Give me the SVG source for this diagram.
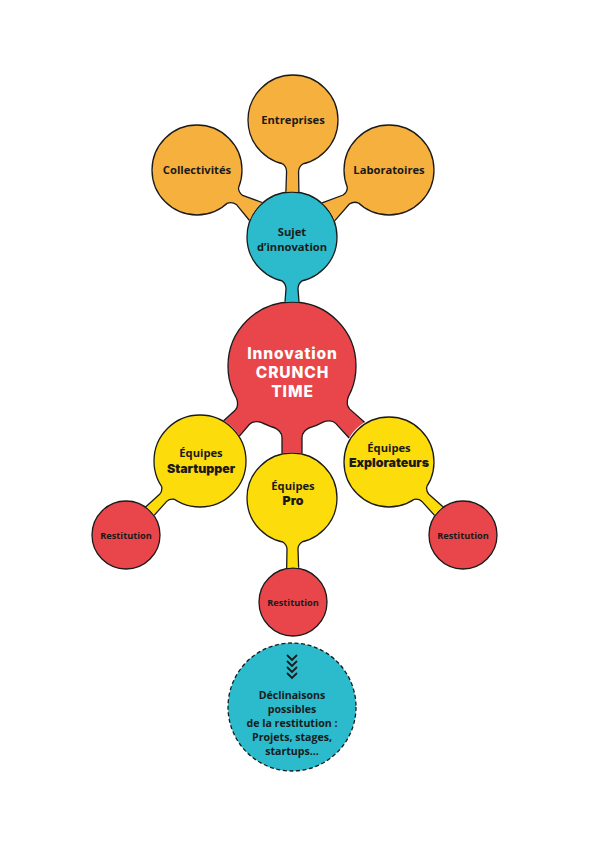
<svg xmlns="http://www.w3.org/2000/svg" width="595" height="842" viewBox="0 0 595 842">
<style>
.orange{fill:#F6B03D}
.blue{fill:#2BBBCC}
.red{fill:#E8464A}
.yellow{fill:#FDDC0C}
.node{stroke:#1a1a1a;stroke-width:1.3}
.dashed{stroke:#1a1a1a;stroke-width:1.3;stroke-dasharray:4 2.6}
.side{fill:none;stroke:#1a1a1a;stroke-width:1.3}
.t{font-family:"Open Sans","Liberation Sans",sans-serif;font-weight:700;fill:#1a1a1a;text-anchor:middle}
.s{font-size:11.2px}
.d{font-size:10.6px}
.xs{font-size:9.2px}
.h{font-family:Inter,"Liberation Sans",sans-serif;font-weight:900;fill:#1a1a1a;text-anchor:middle;font-size:12.4px}
.w{font-family:Inter,"Liberation Sans",sans-serif;font-weight:800;fill:#ffffff;text-anchor:middle;font-size:15.5px;letter-spacing:0.9px}
.chev{fill:none;stroke:#1a1a1a;stroke-width:1.8}
</style>
<rect width="595" height="842" fill="#ffffff"/>

<g id="collectivites">
<circle class="orange node" cx="197" cy="170" r="45"/>
<text class="t s" x="197" y="174">Collectivités</text>
</g>
<g id="entreprises">
<circle class="orange node" cx="293" cy="120" r="45"/>
<text class="t s" x="293" y="124">Entreprises</text>
</g>
<g id="laboratoires">
<circle class="orange node" cx="389" cy="170" r="45"/>
<text class="t s" x="389" y="174">Laboratoires</text>
</g>
<g id="sujet">
<circle class="blue node" cx="292" cy="237" r="45"/>
<text class="t s" x="292" y="236">Sujet</text>
<text class="t s" x="292" y="251">d’innovation</text>
</g>
<g id="innovation">
<circle class="red node" cx="292" cy="366" r="64"/>
<text class="w" x="292.5" y="359">Innovation</text>
<text class="w" x="292.5" y="378">CRUNCH</text>
<text class="w" x="292.5" y="397">TIME</text>
</g>
<g id="startupper">
<circle class="yellow node" cx="200" cy="461" r="46"/>
<text class="t s" x="201" y="457">Équipes</text>
<text class="h" x="201" y="473">Startupper</text>
</g>
<g id="pro">
<circle class="yellow node" cx="292" cy="498" r="45"/>
<text class="t s" x="293" y="490">Équipes</text>
<text class="h" x="293" y="505">Pro</text>
</g>
<g id="explorateurs">
<circle class="yellow node" cx="389" cy="462" r="45"/>
<text class="t s" x="389" y="452">Équipes</text>
<text class="h" x="389" y="467">Explorateurs</text>
</g>
<g id="restitution-gauche">
<circle class="red node" cx="126" cy="535" r="34"/>
<text class="t xs" x="126" y="539">Restitution</text>
</g>
<g id="restitution-bas">
<circle class="red node" cx="293" cy="602" r="34"/>
<text class="t xs" x="293" y="606">Restitution</text>
</g>
<g id="restitution-droite">
<circle class="red node" cx="463" cy="535" r="34"/>
<text class="t xs" x="463" y="539">Restitution</text>
</g>
<g id="declinaisons">
<circle class="blue dashed" cx="292" cy="707" r="64"/>
<polyline class="chev" points="287,655 292,660 297,655"/>
<polyline class="chev" points="287,661 292,666 297,661"/>
<polyline class="chev" points="287,667 292,672 297,667"/>
<polyline class="chev" points="287,673 292,678 297,673"/>
<text class="t d" x="292" y="699">Déclinaisons</text>
<text class="t d" x="292" y="713">possibles</text>
<text class="t d" x="292" y="727">de la restitution :</text>
<text class="t d" x="292" y="741">Projets, stages,</text>
<text class="t d" x="292" y="755">startups...</text>
</g>

<g id="connectors">
<!-- Collectivités -> Sujet -->
<g transform="translate(197,170) rotate(35.19)">
<path class="orange" d="M41,-9.5 L43.99,-9.5 Q46.99,-5.5 51.99,-5.5 L72,-11 A45.6,45.6 0 0 0 72,11 L51.99,5.5 Q46.99,5.5 43.99,9.5 L41,9.5 Z"/>
<path class="side" d="M43.99,-9.5 Q46.99,-5.5 51.99,-5.5 L72,-11 M43.99,9.5 Q46.99,5.5 51.99,5.5 L72,11"/>
</g>
<!-- Entreprises -> Sujet -->
<g transform="translate(293,120) rotate(90.49)">
<path class="orange" d="M41,-10 L43.87,-10 Q46.87,-6 51.87,-6 L71.87,-6.5 A45.6,45.6 0 0 0 71.87,6.5 L51.87,6 Q46.87,6 43.87,10 L41,10 Z"/>
<path class="side" d="M43.87,-10 Q46.87,-6 51.87,-6 L71.87,-6.5 M43.87,10 Q46.87,6 51.87,6 L71.87,6.5"/>
</g>
<!-- Laboratoires -> Sujet -->
<g transform="translate(389,170) rotate(145.37)">
<path class="orange" d="M41,-9.5 L43.99,-9.5 Q46.99,-5.5 51.99,-5.5 L73.64,-11 A45.6,45.6 0 0 0 73.64,11 L51.99,5.5 Q46.99,5.5 43.99,9.5 L41,9.5 Z"/>
<path class="side" d="M43.99,-9.5 Q46.99,-5.5 51.99,-5.5 L73.64,-11 M43.99,9.5 Q46.99,5.5 51.99,5.5 L73.64,11"/>
</g>
<!-- Sujet -> Innovation -->
<g transform="translate(292,237) rotate(90)">
<path class="blue" d="M41,-10 L43.87,-10 Q46.87,-6 51.87,-6 L64.78,-7 A64.6,64.6 0 0 0 64.78,7 L51.87,6 Q46.87,6 43.87,10 L41,10 Z"/>
<path class="side" d="M43.87,-10 Q46.87,-6 51.87,-6 L64.78,-7 M43.87,10 Q46.87,6 51.87,6 L64.78,7"/>
</g>
<!-- Innovation -> Startupper -->
<g transform="translate(292,366) rotate(134.08)">
<path class="red" d="M58,-18 L61.42,-18 Q65.42,-10 71.42,-10 L86.97,-11 A46.6,46.6 0 0 0 86.97,11 L71.42,10 Q65.42,10 61.42,18 L58,18 Z"/>
<path class="side" d="M61.42,-18 Q65.42,-10 71.42,-10 L86.97,-11 M61.42,18 Q65.42,10 71.42,10 L86.97,11"/>
</g>
<!-- Innovation -> Pro -->
<g transform="translate(292,366) rotate(90)">
<path class="red" d="M58,-18 L61.42,-18 Q65.42,-10 71.42,-10 L87.51,-10 A45.6,45.6 0 0 0 87.51,10 L71.42,10 Q65.42,10 61.42,18 L58,18 Z"/>
<path class="side" d="M61.42,-18 Q65.42,-10 71.42,-10 L87.51,-10 M61.42,18 Q65.42,10 71.42,10 L87.51,10"/>
</g>
<!-- Innovation -> Explorateurs -->
<g transform="translate(292,366) rotate(44.71)">
<path class="red" d="M58,-18 L61.42,-18 Q65.42,-10 71.42,-10 L91.2,-11 A45.6,45.6 0 0 0 91.2,11 L71.42,10 Q65.42,10 61.42,18 L58,18 Z"/>
<path class="side" d="M61.42,-18 Q65.42,-10 71.42,-10 L91.2,-11 M61.42,18 Q65.42,10 71.42,10 L91.2,11"/>
</g>
<!-- Startupper -> Restitution gauche -->
<g transform="translate(200,461) rotate(135)">
<path class="yellow" d="M42,-9 L45.11,-9 Q48.11,-5 52.11,-5 L70.57,-6 A34.6,34.6 0 0 0 70.57,6 L52.11,5 Q48.11,5 45.11,9 L42,9 Z"/>
<path class="side" d="M45.11,-9 Q48.11,-5 52.11,-5 L70.57,-6 M45.11,9 Q48.11,5 52.11,5 L70.57,6"/>
</g>
<!-- Pro -> Restitution bas -->
<g transform="translate(292,498) rotate(89.45)">
<path class="yellow" d="M41,-9.5 L43.99,-9.5 Q46.99,-5.5 51,-5.5 L69.9,-6 A34.6,34.6 0 0 0 69.9,6 L51,5.5 Q46.99,5.5 43.99,9.5 L41,9.5 Z"/>
<path class="side" d="M43.99,-9.5 Q46.99,-5.5 51,-5.5 L69.9,-6 M43.99,9.5 Q46.99,5.5 51,5.5 L69.9,6"/>
</g>
<!-- Explorateurs -> Restitution droite -->
<g transform="translate(389,462) rotate(44.6)">
<path class="yellow" d="M41,-9 L44.09,-9 Q47.09,-5 51.09,-5 L69.87,-6 A34.6,34.6 0 0 0 69.87,6 L51.09,5 Q47.09,5 44.09,9 L41,9 Z"/>
<path class="side" d="M44.09,-9 Q47.09,-5 51.09,-5 L69.87,-6 M44.09,9 Q47.09,5 51.09,5 L69.87,6"/>
</g>
</g>
</svg>
